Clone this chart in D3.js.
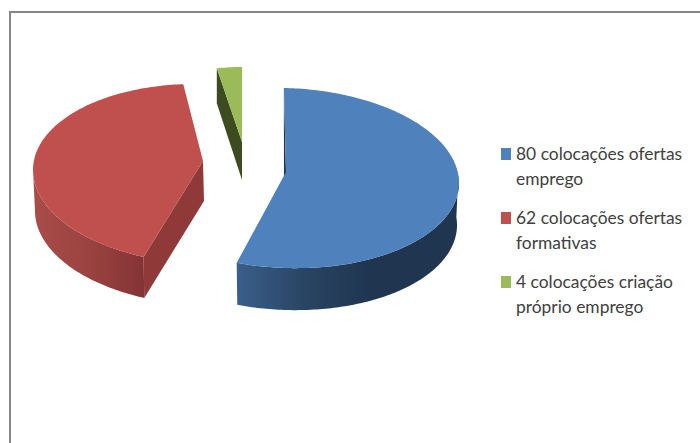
<!DOCTYPE html>
<html>
<head>
<meta charset="utf-8">
<script src="https://cdn.jsdelivr.net/npm/d3@7"></script>
<style>
    html, body { margin: 0; padding: 0; background: #fff; overflow: hidden; }
    svg { display: block; }
    .legend text { font-family: Lato, "Open Sans", sans-serif; font-size: 17.4px; fill: #404040; }
</style>
</head>
<body>
<svg id="chart" width="700" height="443"></svg>
<script>
var categories = ["80 colocações ofertas emprego", "62 colocações ofertas formativas", "4 colocações criação próprio emprego"];
var values = [80, 62, 4];
var legendFirstLines = ["80 colocações ofertas", "62 colocações ofertas", "4 colocações criação"];
var legendSecondLines = ["emprego", "formativas", "próprio emprego"];
var topColors = ["#4f81bd", "#c0504d", "#9bbb59"];
var cutColors = ["#1f3550", "#8f3a38", "#3d4c20"];
var sideStops = [["#3a5f8b", "#2a4564", "#1f3550"], ["#a94c48", "#9a4340", "#843335"], ["#3d4c20", "#3d4c20", "#3d4c20"]];

// where each exploded slice lands on the page (hand fitted to the 3d look)
var layout = [
    {cx: 286, cy: 178, rx: 173, ry: 90, tilt: 5, apexX: 286, apexY: 172, turn: -0.7, h: 42, apexH: 40, apexDx: -2, shrink: 2, x0: 236, x1: 370},
    {cx: 203, cy: 174, rx: 170, ry: 90, tilt: 4, apexX: 203, apexY: 161, turn: 3.2, h: 41, apexH: 40, apexDx: 1, shrink: 2, x0: 35, x1: 144},
    {cx: 242, cy: 156, rx: 147, ry: 89, tilt: 0, apexX: 242, apexY: 142, turn: 0, h: 35, apexH: 38, apexDx: 0, shrink: 0, x0: 216, x1: 242}
];

var svg = d3.select("#chart");
var defs = svg.append("defs");

// frame only shows on top and left in the picture
svg.append("line").attr("x1", 10).attr("y1", 12).attr("x2", 700).attr("y2", 12)
    .attr("stroke", "#868686").attr("stroke-width", 2);
svg.append("line").attr("x1", 10).attr("y1", 11).attr("x2", 10).attr("y2", 443)
    .attr("stroke", "#868686").attr("stroke-width", 2);

var pie = d3.pie().sort(null).value(function (d) { return d; });
var arcs = pie(values);
var line = d3.line();
var deg = Math.PI / 180;

function rimTop(s, a) {
    return [s.cx + s.rx * Math.sin(a), s.cy - s.ry * Math.cos(a) + s.tilt * Math.sin(a)];
}

function rimBottom(s, a) {
    return [s.cx + (s.rx - s.shrink) * Math.sin(a), s.cy + s.h - s.ry * Math.cos(a) + s.tilt * Math.sin(a)];
}

function sampleAngles(a0, a1) {
    var n = Math.max(2, Math.ceil((a1 - a0) / deg));
    return d3.range(n + 1).map(function (i) { return a0 + (a1 - a0) * i / n; });
}

var root = svg.append("g").attr("class", "pie");

arcs.forEach(function (d, i) {
    var s = layout[i];
    var a0 = d.startAngle + s.turn * deg;
    var a1 = d.endAngle + s.turn * deg;

    var grad = defs.append("linearGradient")
        .attr("id", "side" + i)
        .attr("gradientUnits", "userSpaceOnUse")
        .attr("x1", s.x0).attr("x2", s.x1).attr("y1", 0).attr("y2", 0);
    sideStops[i].forEach(function (c, j) {
        grad.append("stop").attr("offset", j / 2).attr("stop-color", c);
    });

    // visible cut face, at the start angle of the slice
    var cut = [rimTop(s, a0), [s.apexX, s.apexY], [s.apexX + s.apexDx, s.apexY + s.apexH], rimBottom(s, a0)];
    root.append("path").attr("d", line(cut) + "Z").attr("fill", cutColors[i]);

    // outer wall, only the part of the rim that faces the viewer
    var w0 = Math.max(a0, 85 * deg);
    var w1 = Math.min(a1, 270 * deg);
    if (w1 > w0) {
        var angles = sampleAngles(w0, w1);
        var wall = angles.map(function (a) { return rimTop(s, a); })
            .concat(angles.slice().reverse().map(function (a) { return rimBottom(s, a); }));
        root.append("path").attr("d", line(wall) + "Z").attr("fill", "url(#side" + i + ")");
    }

    // top face
    var face = [[s.apexX, s.apexY]].concat(sampleAngles(a0, a1).map(function (a) { return rimTop(s, a); }));
    root.append("path").attr("d", line(face) + "Z").attr("fill", topColors[i]);
});

// legend
var legendY = d3.scalePoint().domain(categories).range([160, 288]);
var legend = svg.append("g").attr("class", "legend");

categories.forEach(function (c, i) {
    var y = legendY(c);
    legend.append("rect").attr("x", 501).attr("y", y - 12).attr("width", 10).attr("height", 12)
        .attr("fill", topColors[i]);
    legend.append("text").attr("x", 516).attr("y", y).text(legendFirstLines[i]);
    legend.append("text").attr("x", 516).attr("y", y + 25).text(legendSecondLines[i]);
});
</script>
</body>
</html>
